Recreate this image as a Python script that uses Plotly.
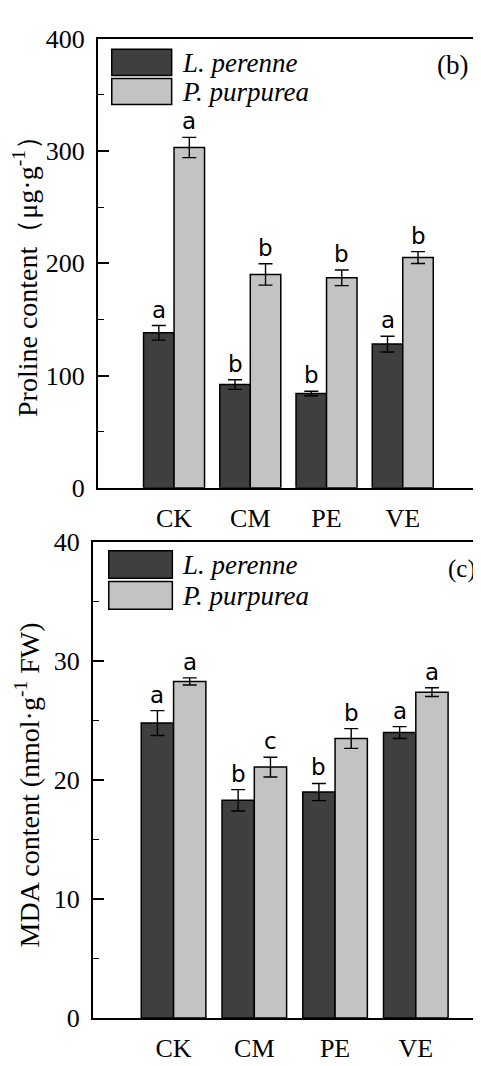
import plotly.graph_objects as go

categories = ["CK", "CM", "PE", "VE"]
series_names = ["L. perenne", "P. purpurea"]

proline_lp = [138, 92, 84, 128]
proline_lp_err = [6.5, 4.3, 2.0, 7.0]
proline_pp = [303, 190, 187, 205]
proline_pp_err = [9.0, 9.5, 7.0, 5.3]
proline_lp_letters = ["a", "b", "b", "a"]
proline_pp_letters = ["a", "b", "b", "b"]

mda_lp = [24.8, 18.3, 19.0, 24.0]
mda_lp_err = [1.05, 0.9, 0.72, 0.5]
mda_pp = [28.3, 21.1, 23.5, 27.4]
mda_pp_err = [0.3, 0.83, 0.83, 0.37]
mda_lp_letters = ["a", "b", "b", "a"]
mda_pp_letters = ["a", "c", "b", "a"]

DARK = "#3f3f3f"
LIGHT = "#c3c3c3"
SERIF = "Liberation Serif"
OFF = 8                      # page body margin
W, H = 481 - OFF, 1066 - OFF


def px(xs):
    return (xs - OFF) / W


def py(ys):
    return (H - (ys - OFF)) / H


fig = go.Figure()


def add_bars(vals, errs, color, name, xa, ya, og):
    fig.add_trace(go.Bar(
        x=categories, y=vals, name=name, xaxis=xa, yaxis=ya, offsetgroup=og,
        marker=dict(color=color, line=dict(color="black", width=1.5)),
        error_y=dict(type="data", array=errs, color="black", thickness=1.4, width=7),
        showlegend=False))


add_bars(proline_lp, proline_lp_err, DARK, series_names[0], "x", "y", "lp")
add_bars(proline_pp, proline_pp_err, LIGHT, series_names[1], "x", "y", "pp")
add_bars(mda_lp, mda_lp_err, DARK, series_names[0], "x2", "y2", "lp")
add_bars(mda_pp, mda_pp_err, LIGHT, series_names[1], "x2", "y2", "pp")

annotations = []


def add_letters(vals, errs, letters, xref, yref, off):
    for i, (v, e, t) in enumerate(zip(vals, errs, letters)):
        annotations.append(dict(
            x=i + off, y=v + e, xref=xref, yref=yref, text=t, showarrow=False,
            yanchor="bottom", xanchor="center", yshift=1,
            font=dict(family="DejaVu Sans", size=23, color="black")))


add_letters(proline_lp, proline_lp_err, proline_lp_letters, "x", "y", -0.2)
add_letters(proline_pp, proline_pp_err, proline_pp_letters, "x", "y", 0.2)
add_letters(mda_lp, mda_lp_err, mda_lp_letters, "x2", "y2", -0.2)
add_letters(mda_pp, mda_pp_err, mda_pp_letters, "x2", "y2", 0.2)

# domains (screen-pixel derived)
top_x = [px(98), px(480)]
top_y = [py(487), py(25)]
bot_x = [px(93), 1.0]
bot_y = [py(1032), py(543)]

shapes = []


def add_legend(xref, yref, rects, text_x, text_ys):
    for (x0, x1, y0, y1), color, name, ty in zip(rects, [DARK, LIGHT], series_names, text_ys):
        shapes.append(dict(type="rect", xref=xref, yref=yref, x0=x0, x1=x1, y0=y0, y1=y1,
                           fillcolor=color, line=dict(color="black", width=1.5)))
        annotations.append(dict(x=text_x, y=ty, xref=xref, yref=yref, text="<i>%s</i>" % name,
                                showarrow=False, xanchor="left", yanchor="middle",
                                font=dict(family=SERIF, size=27, color="black")))


add_legend("x domain", "y domain",
           [(0.0366, 0.1937, 0.918, 0.976), (0.0366, 0.1937, 0.853, 0.911)],
           0.2147, [0.945, 0.880])
add_legend("x2 domain", "y2 domain",
           [(0.0412, 0.2054, 0.9243, 0.9822), (0.0412, 0.2054, 0.8595, 0.9176)],
           0.2242, [0.953, 0.887])

annotations.append(dict(x=px(471), y=py(52), xref="paper", yref="paper", text="(b)",
                        showarrow=False, xanchor="right", yanchor="middle",
                        font=dict(family=SERIF, size=27, color="black")))
annotations.append(dict(x=px(479), y=py(570), xref="paper", yref="paper", text="(c)",
                        showarrow=False, xanchor="right", yanchor="middle",
                        font=dict(family=SERIF, size=25, color="black")))

annotations.append(dict(x=px(25), y=py(262), xref="paper", yref="paper",
                        text="Proline content\uff08\u03bcg\u00b7g<sup>-1</sup>\uff09",
                        textangle=-90, showarrow=False, xanchor="center", yanchor="middle",
                        font=dict(family=SERIF, size=28, color="black")))
annotations.append(dict(x=px(28), y=py(792), xref="paper", yref="paper",
                        text="MDA content (nmol\u00b7g<sup>-1</sup> FW)",
                        textangle=-90, showarrow=False, xanchor="center", yanchor="middle",
                        font=dict(family=SERIF, size=28, color="black")))

axis_common = dict(showline=True, linecolor="black", linewidth=1.6, showgrid=False,
                   zeroline=False, tickfont=dict(family=SERIF, size=26, color="black"))

fig.update_layout(
    width=W, height=H, margin=dict(l=0, r=0, t=0, b=0),
    paper_bgcolor="white", plot_bgcolor="white",
    barmode="group", bargap=0.2, bargroupgap=0,
    showlegend=False,
    xaxis=dict(domain=top_x, anchor="y", range=[-1, 4], mirror=True, ticks="",
               ticklabelstandoff=6, **axis_common),
    yaxis=dict(domain=top_y, anchor="x", range=[0, 400], mirror=True, ticks="inside",
               ticklen=11, tickwidth=1.6, tickcolor="black", dtick=100,
               minor=dict(ticks="inside", ticklen=6, dtick=50, tickcolor="black", tickwidth=1.4),
               ticklabelstandoff=6, **axis_common),
    xaxis2=dict(domain=bot_x, anchor="y2", range=[-1, 3.795], mirror=True, ticks="",
                ticklabelstandoff=6, **axis_common),
    yaxis2=dict(domain=bot_y, anchor="x2", range=[0, 40], mirror=False, ticks="inside",
                ticklen=11, tickwidth=1.6, tickcolor="black", dtick=10,
                minor=dict(ticks="inside", ticklen=6, dtick=5, tickcolor="black", tickwidth=1.4),
                ticklabelstandoff=6, **axis_common),
    annotations=annotations, shapes=shapes,
)

fig.write_html("out.html")
